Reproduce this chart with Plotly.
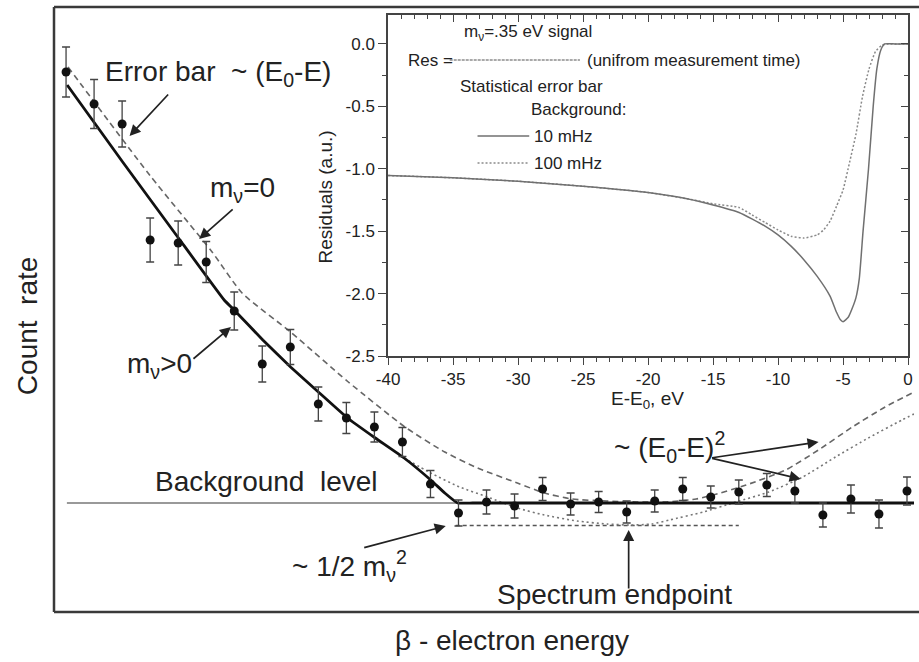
import plotly.graph_objects as go

# ---------------- main schematic data (arbitrary units) ----------------
bins = list(range(31))
counts = [54.0, 50.8, 48.8, 37.2, 36.9, 35.0, 30.1, 24.8, 26.5, 20.8, 19.4,
          18.5, 17.0, 12.8, 9.9, 11.0, 10.6, 12.3, 10.8, 11.0, 10.0, 11.1,
          12.3, 11.5, 12.0, 12.7, 12.1, 9.7, 11.3, 9.8, 12.1]
count_err = [2.5, 2.45, 2.3, 2.2, 2.2, 2.05, 1.9, 1.8, 1.75, 1.7, 1.55,
             1.5, 1.45, 1.35, 1.3, 1.2, 1.2, 1.15, 1.1, 1.05, 1.1, 1.1,
             1.15, 1.1, 1.2, 1.15, 1.2, 1.2, 1.4, 1.4, 1.4]

background_x = [0.03, 30.25]
background_level = 10.9

massive_x = [0.04, 2.02, 4.01, 5.64, 6.03, 7.02, 8.01, 9.04, 10.04, 11.03,
             12.06, 13.05, 13.51, 13.97, 14.5, 16.0, 20.0, 25.0, 30.25]
massive_y = [52.7, 45.0, 37.4, 31.2, 30.1, 27.2, 24.5, 21.9, 19.4, 17.4,
             15.4, 13.1, 11.9, 10.9, 10.9, 10.9, 10.9, 10.9, 10.9]

massless_x = [0.07, 2.98, 5.21, 6.28, 8.01, 10.07, 12.09, 13.51, 14.68, 16.10,
              17.06, 18.05, 19.29, 20.35, 21.42, 22.48, 23.09, 24.26, 25.67,
              26.84, 28.05, 29.22, 30.25]
massless_y = [54.5, 43.7, 36.0, 31.9, 28.0, 23.0, 18.5, 16.0, 14.4, 12.9,
              11.9, 11.3, 11.1, 11.0, 11.0, 11.3, 11.7, 12.7, 14.2,
              16.2, 18.5, 20.5, 22.0]

dotted_x = [12.06, 13.01, 14.04, 15.04, 16.10, 17.06, 18.23, 19.29, 20.11,
            20.89, 21.52, 22.73, 23.90, 25.07, 26.28, 27.45, 28.62, 29.82, 30.25]
dotted_y = [15.4, 13.9, 12.5, 11.5, 10.4, 9.7, 9.1, 8.8, 8.7,
            8.8, 9.2, 10.0, 11.0, 12.0, 13.5, 15.5, 17.4, 19.2, 19.8]

shift_x = [13.9, 24.0]
shift_level = 8.65

# ---------------- inset data ----------------
res10_x = [-40, -35, -30, -25, -20, -17, -15, -13, -11, -10, -9, -8, -7, -6,
           -5.5, -5.2, -5.0, -4.6, -4.3, -4.0, -3.75, -3.46, -3.04, -2.68,
           -2.4, -2.1, -1.8, -1.0, 0]
res10_y = [-1.054, -1.072, -1.10, -1.14, -1.19, -1.24, -1.29, -1.35, -1.46,
           -1.53, -1.62, -1.73, -1.86, -2.02, -2.15, -2.21, -2.225, -2.19,
           -2.12, -2.03, -1.88, -1.5, -1.0, -0.5, -0.2, -0.05, 0.0, 0.0, 0.0]

res100_x = [-40, -35, -30, -25, -20, -17, -15, -13, -12, -11, -10, -9, -8,
            -7, -6.5, -6, -5.5, -5, -4.5, -4, -3.5, -3, -2.5, -2, -1.6, -1.0, 0]
res100_y = [-1.054, -1.072, -1.10, -1.14, -1.19, -1.24, -1.28, -1.31, -1.37,
            -1.43, -1.49, -1.54, -1.555, -1.53, -1.49, -1.42, -1.30, -1.17,
            -0.95, -0.72, -0.42, -0.2, -0.06, -0.01, 0.0, 0.0, 0.0]

inset_xtick_vals = [-40, -35, -30, -25, -20, -15, -10, -5, 0]
inset_xtick_text = ["-40", "-35", "-30", "-25", "-20", "-15", "-10", "-5", "0"]
inset_ytick_vals = [0.0, -0.5, -1.0, -1.5, -2.0, -2.5]
inset_ytick_text = ["0.0", "-0.5", "-1.0", "-1.5", "-2.0", "-2.5"]

# ---------------- layout geometry ----------------
W, H = 919, 662
ML, MR, MT, MB = 54, 0, 7, 50
PW, PH = W - ML - MR, H - MT - MB


def PX(px):
    return (px - ML) / PW


def PY(py):
    return (H - MB - py) / PH


FONT = "Arial, 'Liberation Sans', sans-serif"
TXT = "#222222"

fig = go.Figure()

# background level
fig.add_trace(go.Scatter(x=background_x, y=[background_level] * 2, mode="lines",
                         line=dict(color="#777777", width=1.3), hoverinfo="skip"))
# shifted endpoint level
fig.add_trace(go.Scatter(x=shift_x, y=[shift_level] * 2, mode="lines",
                         line=dict(color="#555555", width=1.3, dash="4px,3px"),
                         hoverinfo="skip"))
# m=0 dashed
fig.add_trace(go.Scatter(x=massless_x, y=massless_y, mode="lines",
                         line=dict(color="#666666", width=1.6, dash="6px,4px",
                                   shape="spline", smoothing=0.6),
                         hoverinfo="skip"))
# dotted
fig.add_trace(go.Scatter(x=dotted_x, y=dotted_y, mode="lines",
                         line=dict(color="#777777", width=1.6, dash="2px,3px",
                                   shape="spline", smoothing=0.6),
                         hoverinfo="skip"))
# m>0 solid
fig.add_trace(go.Scatter(x=massive_x, y=massive_y, mode="lines",
                         line=dict(color="#111111", width=2.8,
                                   shape="spline", smoothing=0.3),
                         hoverinfo="skip"))
# data points
fig.add_trace(go.Scatter(x=bins, y=counts, mode="markers",
                         marker=dict(color="#111111", size=9),
                         error_y=dict(type="data", array=count_err, visible=True,
                                      color="#444444", thickness=1.3, width=4)))

# inset curves
fig.add_trace(go.Scatter(x=res100_x, y=res100_y, mode="lines", xaxis="x2", yaxis="y2",
                         line=dict(color="#8a8a8a", width=1.5, dash="2px,2px",
                                   shape="spline", smoothing=0.5),
                         hoverinfo="skip"))
fig.add_trace(go.Scatter(x=res10_x, y=res10_y, mode="lines", xaxis="x2", yaxis="y2",
                         line=dict(color="#707070", width=1.5,
                                   shape="spline", smoothing=0.5),
                         hoverinfo="skip"))
# dummy trace for mirrored inside ticks
fig.add_trace(go.Scatter(x=[-40], y=[-2.5], mode="markers", xaxis="x3", yaxis="y3",
                         marker=dict(opacity=0), hoverinfo="skip"))

ix0, ix1 = PX(390), PX(913)
iy0, iy1 = PY(356), PY(15)
ytop = 0.232

axis_common = dict(showgrid=False, zeroline=False, showline=True,
                   linecolor="#444444", linewidth=1.5,
                   tickcolor="#444444", tickwidth=1.3,
                   tickfont=dict(family=FONT, size=17, color=TXT))

fig.update_layout(
    width=W, height=H,
    margin=dict(l=ML, r=MR, t=MT, b=MB, pad=0),
    paper_bgcolor="white", plot_bgcolor="white",
    showlegend=False,
    font=dict(family=FONT, color=TXT),
    xaxis=dict(range=[-0.43, 30.25], visible=False, domain=[0, 1]),
    yaxis=dict(range=[0, 60.5], visible=False, domain=[0, 1]),
    xaxis2=dict(domain=[ix0, ix1], anchor="y2", range=[-40, 0],
                tickvals=inset_xtick_vals, ticktext=inset_xtick_text,
                ticks="outside", ticklen=7,
                minor=dict(ticks="outside", dtick=1, ticklen=4,
                           tickcolor="#444444", tickwidth=1),
                **axis_common),
    yaxis2=dict(domain=[iy0, iy1], anchor="x2", range=[-2.5, ytop],
                tickvals=inset_ytick_vals, ticktext=inset_ytick_text,
                ticks="outside", ticklen=8,
                minor=dict(ticks="outside", dtick=0.25, ticklen=4,
                           tickcolor="#444444", tickwidth=1),
                **axis_common),
    xaxis3=dict(overlaying="x2", anchor="y2", side="top", range=[-40, 0],
                tickvals=inset_xtick_vals, showticklabels=False,
                ticks="inside", ticklen=7,
                minor=dict(ticks="inside", dtick=1, ticklen=4,
                           tickcolor="#444444", tickwidth=1),
                **axis_common),
    yaxis3=dict(overlaying="y2", anchor="x2", side="right", range=[-2.5, ytop],
                tickvals=inset_ytick_vals, showticklabels=False,
                ticks="inside", ticklen=7,
                minor=dict(ticks="inside", dtick=0.25, ticklen=4,
                           tickcolor="#444444", tickwidth=1),
                **axis_common),
)

# main frame (left, bottom, top; right side runs off the page)
frame = dict(type="line", xref="paper", yref="paper",
             line=dict(color="#3a3a3a", width=2.5))
fig.add_shape(x0=0, y0=0, x1=0, y1=1, **frame)
fig.add_shape(x0=0, y0=0, x1=1.02, y1=0, **frame)
fig.add_shape(x0=0, y0=1, x1=1.02, y1=1, **frame)

# inset "legend" graphics
fig.add_shape(type="line", xref="paper", yref="paper",
              x0=PX(452), x1=PX(583), y0=PY(60), y1=PY(60),
              line=dict(color="#555555", width=1.2, dash="3px,1px"))
fig.add_shape(type="line", xref="paper", yref="paper",
              x0=PX(480), x1=PX(532), y0=PY(136), y1=PY(136),
              line=dict(color="#707070", width=1.5))
fig.add_shape(type="line", xref="paper", yref="paper",
              x0=PX(480), x1=PX(532), y0=PY(163), y1=PY(163),
              line=dict(color="#8a8a8a", width=1.5, dash="2px,2px"))


def note(text, px, py, size, xanchor="center", angle=0):
    fig.add_annotation(text=text, x=PX(px), y=PY(py), xref="paper", yref="paper",
                       xanchor=xanchor, yanchor="middle", showarrow=False,
                       textangle=angle, font=dict(family=FONT, size=size, color=TXT))


def arrow(tail, head):
    fig.add_annotation(text="", x=PX(head[0]), y=PY(head[1]), xref="paper", yref="paper",
                       ax=tail[0] - head[0], ay=tail[1] - head[1],
                       axref="pixel", ayref="pixel", showarrow=True,
                       arrowhead=2, arrowsize=1.3, arrowwidth=1.7,
                       arrowcolor="#222222", standoff=0)


# main annotations
note("Error bar\u00a0\u00a0~ (E<sub>0</sub>-E)", 219, 74, 28)
note("m<sub>ν</sub>=0", 244, 189, 28)
note("m<sub>ν</sub>>0", 160, 365, 28)
note("Background\u00a0\u00a0level", 268, 481, 28)
note("~ 1/2 m<sub>ν</sub><sup>2</sup>", 351, 566, 28)
note("Spectrum endpoint", 618, 594, 28)
note("~ (E<sub>0</sub>-E)<sup>2</sup>", 673, 447, 28)
note("Count\u00a0\u00a0rate", 27, 326, 28, angle=-90)
note("β - electron energy", 515, 640, 28)

arrow((170, 93), (130, 136))
arrow((235, 208), (200, 239))
arrow((193, 360), (232, 327))
arrow((365, 548), (448, 526))
arrow((632, 590), (632, 530))
arrow((715, 458), (823, 442))
arrow((715, 458), (805, 479))

# inset annotations
note("m<sub>ν</sub>=.35 eV signal", 531, 33, 17)
note("Res =", 408, 60, 17, xanchor="left")
note("(unifrom measurement time)", 588, 60, 17, xanchor="left")
note("Statistical error bar", 460, 86, 17, xanchor="left")
note("Background:", 532, 110, 17, xanchor="left")
note("10 mHz", 535, 136, 17, xanchor="left")
note("100 mHz", 535, 163, 17, xanchor="left")
note("Residuals (a.u.)", 328, 197, 19, angle=-90)
note("E-E<sub>0</sub>, eV", 651, 400, 19)

fig.write_html("out.html")
